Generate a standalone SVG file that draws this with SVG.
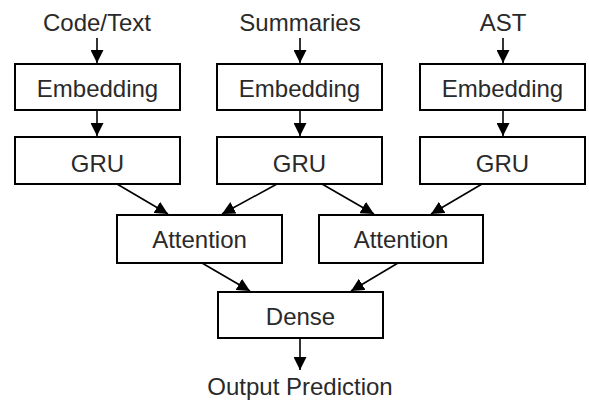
<svg xmlns="http://www.w3.org/2000/svg" width="589" height="401" viewBox="0 0 589 401">
<defs>
<marker id="ah" viewBox="0 0 13 13" refX="13" refY="6.5" markerWidth="13" markerHeight="13" markerUnits="userSpaceOnUse" orient="auto">
<path d="M0,0 L13,6.5 L0,13 Z" fill="#000"/>
</marker>
<style>
.box{fill:#fff;stroke:#000;stroke-width:2}
.lbl{font-family:"Liberation Sans",Arial,sans-serif;font-size:24px;fill:#2a2a2a;text-anchor:middle}
.c{stroke:#000;stroke-width:1.6;fill:none;marker-end:url(#ah)}
</style>
</defs>
<rect width="589" height="401" fill="#fff"/>
<g id="in-code"><text class="lbl" x="97" y="31">Code/Text</text></g>
<g id="in-sum"><text class="lbl" x="300" y="31">Summaries</text></g>
<g id="in-ast"><text class="lbl" x="503" y="31">AST</text></g>
<g id="emb1"><rect class="box" x="15" y="64" width="165" height="46"/><text class="lbl" x="97.5" y="97">Embedding</text></g>
<g id="emb2"><rect class="box" x="217" y="64" width="165" height="46"/><text class="lbl" x="299.5" y="97">Embedding</text></g>
<g id="emb3"><rect class="box" x="420" y="64" width="165" height="46"/><text class="lbl" x="502.5" y="97">Embedding</text></g>
<g id="gru1"><rect class="box" x="15" y="137" width="165" height="47"/><text class="lbl" x="97.5" y="172">GRU</text></g>
<g id="gru2"><rect class="box" x="217" y="137" width="165" height="47"/><text class="lbl" x="299.5" y="172">GRU</text></g>
<g id="gru3"><rect class="box" x="420" y="137" width="165" height="47"/><text class="lbl" x="502.5" y="172">GRU</text></g>
<g id="att1"><rect class="box" x="117" y="215" width="165" height="48"/><text class="lbl" x="199.5" y="248">Attention</text></g>
<g id="att2"><rect class="box" x="319" y="215" width="164" height="48"/><text class="lbl" x="401" y="248">Attention</text></g>
<g id="dense"><rect class="box" x="218" y="292" width="165" height="46"/><text class="lbl" x="300.5" y="325">Dense</text></g>
<g id="out"><text class="lbl" x="300" y="395">Output Prediction</text></g>
<g id="connectors">
<line class="c" x1="97" y1="38" x2="97" y2="63"/>
<line class="c" x1="300" y1="38" x2="300" y2="63"/>
<line class="c" x1="503" y1="38" x2="503" y2="63"/>
<line class="c" x1="97" y1="110" x2="97" y2="136"/>
<line class="c" x1="300" y1="110" x2="300" y2="136"/>
<line class="c" x1="503" y1="110" x2="503" y2="136"/>
<line class="c" x1="117" y1="184" x2="168" y2="214"/>
<line class="c" x1="277" y1="184" x2="222" y2="214"/>
<line class="c" x1="322" y1="184" x2="374" y2="214"/>
<line class="c" x1="482" y1="184" x2="431" y2="214"/>
<line class="c" x1="202" y1="263" x2="250" y2="291"/>
<line class="c" x1="398" y1="263" x2="351" y2="291"/>
<line class="c" x1="300" y1="338" x2="300" y2="370"/>
</g>
</svg>
